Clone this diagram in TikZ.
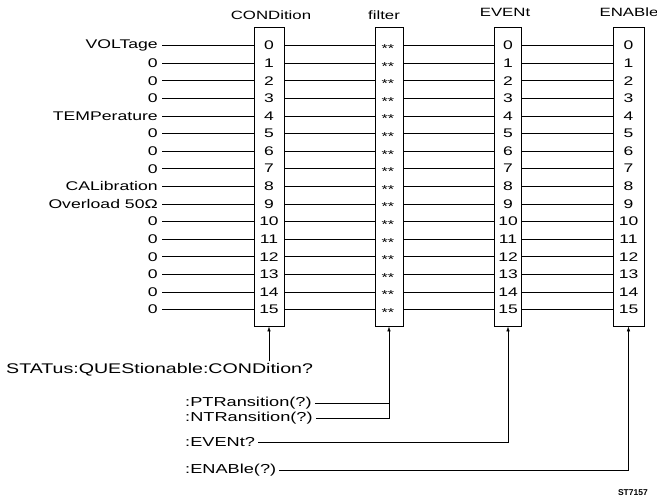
\documentclass[tikz,border=0pt]{standalone}
\usepackage{fontspec}
\setmainfont{Liberation Sans}
\usetikzlibrary{arrows.meta}
\newcommand\W[1]{\scalebox{1.4}[1]{#1}}
\begin{document}
\begin{tikzpicture}[x=1pt,y=-1pt,
  lbl/.style={anchor=east, inner sep=0pt, font=\fontsize{12.6}{14}\selectfont},
  num/.style={inner sep=0pt, font=\fontsize{12.5}{14}\selectfont},
  ast/.style={inner sep=0pt, font=\fontsize{11.5}{13}\selectfont, yshift=-3pt},
  ttl/.style={inner sep=0pt, font=\fontsize{12}{14}\selectfont},
  cmd/.style={anchor=west, inner sep=0pt, font=\fontsize{13}{15}\selectfont},
  colbox/.style={draw, line width=0.8pt, inner sep=0pt, minimum height=298.5pt},
  wire/.style={line width=0.6pt},
  arr/.style={line width=0.6pt, -{Latex[length=5pt,width=3.5pt]}}]
\useasboundingbox (0,0) rectangle (657,500);
% column boxes
\node[colbox, minimum width=30pt] (cond) at (269,176.75) {};
\node[colbox, minimum width=28pt] (filt) at (389,176.75) {};
\node[colbox, minimum width=27pt] (evt) at (508,176.75) {};
\node[colbox, minimum width=31pt] (ena) at (628.5,176.75) {};
% titles
\node[ttl] (tcond) at (271,15) {\W{CONDition}};
\node[ttl] (tfilt) at (384,15) {\W{filter}};
\node[ttl] (tevt) at (505,12) {\W{EVENt}};
\node[ttl] (tena) at (629,12) {\W{ENABle}};
% rows
\foreach \i/\t in {0/VOLTage,1/0,2/0,3/0,4/TEMPerature,5/0,6/0,7/0,8/CALibration,9/Overload 50Ω,10/0,11/0,12/0,13/0,14/0,15/0} {
  \pgfmathsetmacro\yy{45.5+17.6*\i}
  \node[lbl] (l\i) at (158,\yy) {\W{\t}};
  \node[num] (c\i) at (269,\yy) {\W{\i}};
  \node[ast] (f\i) at (388,\yy) {\W{**}};
  \node[num] (e\i) at (508,\yy) {\W{\i}};
  \node[num] (n\i) at (628.5,\yy) {\W{\i}};
  \draw[wire] ([xshift=4pt]l\i.east) -- (cond.west |- c\i);
  \draw[wire] (cond.east |- c\i) -- (filt.west |- c\i);
  \draw[wire] (filt.east |- c\i) -- (evt.west |- c\i);
  \draw[wire] (evt.east |- c\i) -- (ena.west |- c\i);
}
% commands
\node[anchor=west, inner sep=0pt, font=\fontsize{14}{16}\selectfont] (stat) at (6,370) {\W{STATus:QUEStionable:CONDition?}};
\draw[arr] ([yshift=2pt]stat.north -| cond.south) -- (cond.south);
\node[cmd] (ptr) at (185,403.5) {\W{:PTRansition(?)}};
\node[cmd] (ntr) at (185,418) {\W{:NTRansition(?)}};
\node[cmd] (evq) at (185,442) {\W{:EVENt?}};
\node[cmd] (enq) at (185,470) {\W{:ENABle(?)}};
\draw[wire] ([xshift=3pt]ptr.east) -- (ptr.east -| filt.south);
\draw[arr] ([xshift=3pt]ntr.east) -| (filt.south);
\draw[arr] ([xshift=3pt]evq.east) -| (evt.south);
\draw[arr] ([xshift=3pt]enq.east) -| (ena.south);
\node[anchor=east, inner sep=0pt, font=\bfseries\fontsize{8.5}{10}\selectfont] (code) at (648,493) {ST7157};
\end{tikzpicture}
\end{document}
